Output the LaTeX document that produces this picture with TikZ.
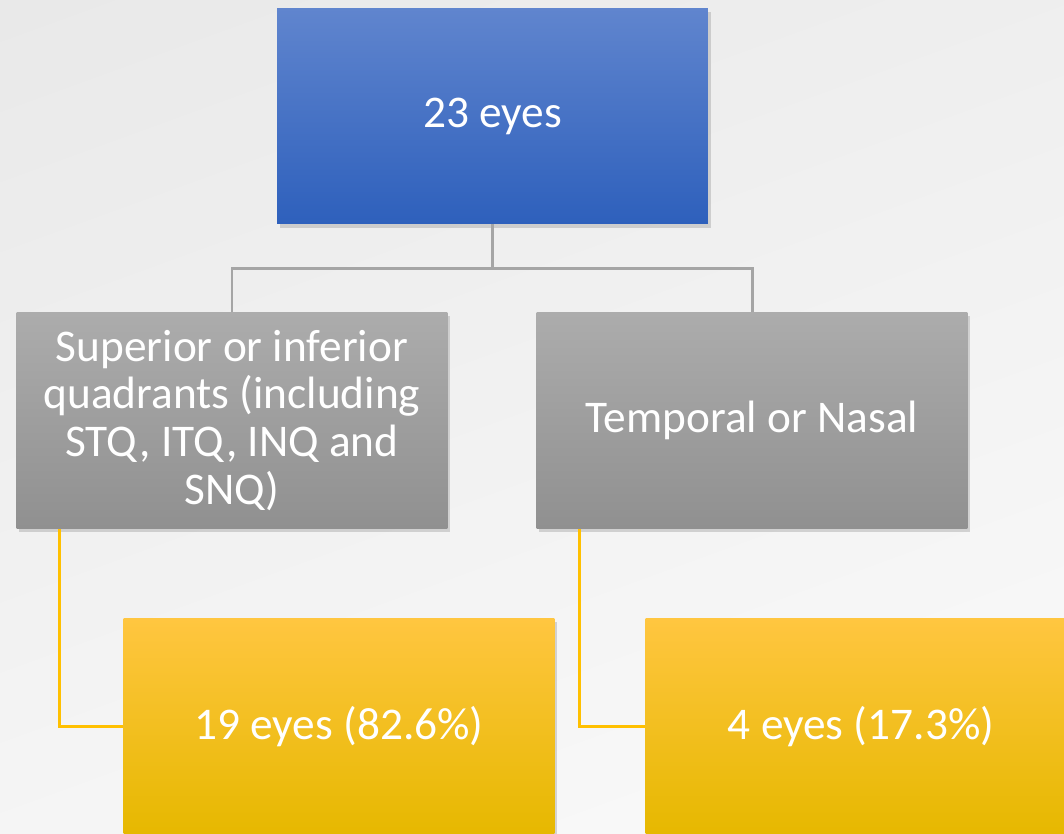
\documentclass[tikz,border=0pt]{standalone}
\usepackage{fontspec}
\setmainfont{Carlito}
\usetikzlibrary{shadows}

\definecolor{blueTop}{RGB}{96,133,206}
\definecolor{blueBot}{RGB}{46,96,188}
\definecolor{greyTop}{RGB}{172,172,172}
\definecolor{greyBot}{RGB}{144,144,144}
\definecolor{goldTop}{RGB}{255,198,64}
\definecolor{goldMid}{RGB}{255,200,0}
\definecolor{goldBot}{RGB}{230,184,0}
\definecolor{linkGrey}{RGB}{165,165,165}
\definecolor{linkGold}{RGB}{255,192,0}

\begin{document}
\begin{tikzpicture}[x=0.02cm,y=-0.02cm,
    box/.style={minimum width=8.62cm,minimum height=4.32cm,align=center,
        inner sep=0pt,text=white,font=\fontsize{25.8}{27.3}\selectfont,
        drop shadow={opacity=0.3,shadow xshift=1.5pt,shadow yshift=-2pt}},
    root box/.style={box,top color=blueTop,bottom color=blueBot},
    site box/.style={box,top color=greyTop,bottom color=greyBot},
    count box/.style={box,top color=goldTop,middle color=goldMid,bottom color=goldBot},
    link/.style={draw=linkGrey,line width=1.7pt},
    gold link/.style={draw=linkGold,line width=1.7pt}]

    \useasboundingbox (0,0) rectangle (1064,833);
    \clip (0,0) rectangle (1064,833);
    \shade[top color=gray!17,bottom color=white!98!black,shading angle=20] (-100,-100) rectangle (1164,933);

    \node[root box] (eyes) at (492.5,116) {23 eyes};
    \node[site box] (quad) at (232,420.5) {Superior or inferior\\quadrants (including\\STQ, ITQ, INQ and\\SNQ)};
    \node[site box] (tn) at (752,420.5) {Temporal or Nasal};
    \node[count box] (quadn) at (339,726.5) {19 eyes (82.6\%)};
    \node[count box] (tnn) at (861,726.5) {4 eyes (17.3\%)};

    \draw[link] (eyes.south) -- ++(0,44) -| (quad.north);
    \draw[link] (eyes.south) -- ++(0,44) -| (tn.north);
    \draw[gold link] ([xshift=0.86cm]quad.south west) |- (quadn.west);
    \draw[gold link] ([xshift=0.86cm]tn.south west) |- (tnn.west);
\end{tikzpicture}
\end{document}
